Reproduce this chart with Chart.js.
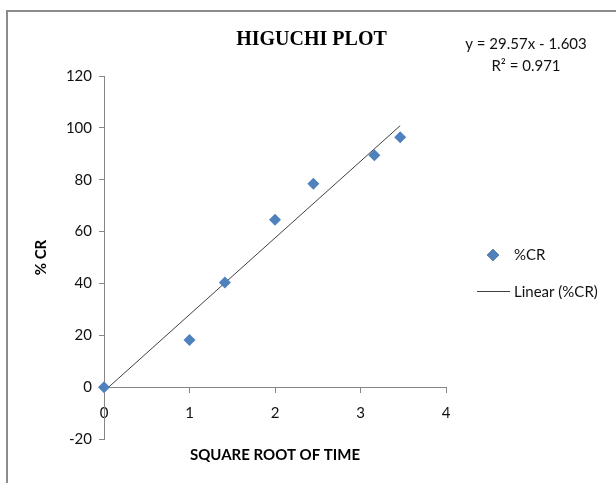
<!DOCTYPE html>
<html><head><meta charset="utf-8">
<script src="https://cdn.jsdelivr.net/npm/chart.js@4"></script>
<style>
html,body{margin:0;padding:0;background:#fff;overflow:hidden}
#wrap{position:absolute;left:0;top:0;width:616px;height:483px}
#frame{position:absolute;left:6px;top:10px;width:700px;height:600px;border:2px solid #8c8c8c;box-sizing:border-box;pointer-events:none}
</style></head><body>
<div id="wrap"><canvas id="c" width="616" height="483"></canvas></div>
<div id="frame"></div>
<script>
const sqrtTime = [0, 1, 1.414, 2, 2.449, 3.162, 3.464];
const percentCR = [0, 18.2, 40.4, 64.6, 78.4, 89.4, 96.4];
const trendX = [0, 3.464];
const trendY = [-1.603, 100.83];
const xTickValues = [0, 1, 2, 3, 4];
const yTickValues = [-20, 0, 20, 40, 60, 80, 100, 120];
const chartTitle = 'HIGUCHI PLOT';
const xTitle = 'SQUARE ROOT OF TIME';
const yTitle = '% CR';
const seriesName = '%CR';
const trendName = 'Linear (%CR)';
const equationLines = ['y = 29.57x - 1.603', 'R\u00b2 = 0.971'];

const blue = '#4F81BD';
const axisGray = '#868686';
const textColor = '#111';
const sansFont = 'Lato, "Open Sans", sans-serif';

const scatterPts = sqrtTime.map((x, i) => ({x, y: percentCR[i]}));
const trendPts = trendX.map((x, i) => ({x, y: trendY[i]}));

const overlay = {
  id: 'overlay',
  afterDraw(chart) {
    const ctx = chart.ctx;
    ctx.save();
    ctx.fillStyle = textColor;
    ctx.font = '15px ' + sansFont;
    ctx.textBaseline = 'middle';
    ctx.textAlign = 'center';
    ctx.fillText(equationLines[0], 526, 44);
    ctx.fillText(equationLines[1], 526, 66);
    // legend
    ctx.textAlign = 'left';
    Chart.helpers.drawPoint(ctx, {pointStyle: 'rectRot', radius: 6, borderWidth: 0}, 493, 255);
    ctx.fillStyle = blue;
    ctx.fill();
    ctx.fillStyle = textColor;
    ctx.fillText(seriesName, 514, 255);
    ctx.strokeStyle = '#404040';
    ctx.lineWidth = 1;
    ctx.beginPath();
    ctx.moveTo(477, 291.5);
    ctx.lineTo(510, 291.5);
    ctx.stroke();
    ctx.fillText(trendName, 514, 292);
    ctx.restore();
  }
};

new Chart(document.getElementById('c'), {
  type: 'scatter',
  data: {
    datasets: [
      {
        label: seriesName,
        data: scatterPts,
        pointStyle: 'rectRot',
        pointRadius: 6,
        pointHoverRadius: 6,
        pointBackgroundColor: blue,
        pointBorderColor: blue,
        pointBorderWidth: 0,
        showLine: false,
        clip: false,
        xAxisID: 'x', yAxisID: 'y',
        order: 1
      },
      {
        label: trendName,
        type: 'line',
        data: trendPts,
        borderColor: '#404040',
        borderWidth: 1,
        pointRadius: 0,
        fill: false,
        xAxisID: 'x', yAxisID: 'y',
        order: 2
      }
    ]
  },
  options: {
    responsive: false,
    animation: false,
    events: [],
    layout: {padding: {left: 7, right: 0, top: 0, bottom: 0}},
    plugins: {
      legend: {display: false},
      tooltip: {enabled: false},
      title: {
        display: true,
        text: chartTitle,
        color: '#000',
        font: {family: '"Liberation Serif", "Times New Roman", serif', size: 20, weight: 'bold'},
        padding: {top: 28, bottom: 24}
      }
    },
    scales: {
      x: {
        type: 'linear',
        position: {y: 0},
        min: 0, max: 4,
        afterBuildTicks(s) { s.ticks = xTickValues.map(v => ({value: v})); },
        ticks: {color: textColor, font: {family: sansFont, size: 15}, padding: 12, maxRotation: 0},
        grid: {drawOnChartArea: false, drawTicks: true, tickLength: 5, color: axisGray},
        border: {color: axisGray, width: 1}
      },
      y: {
        type: 'linear',
        position: 'left',
        min: -20, max: 120,
        afterBuildTicks(s) { s.ticks = yTickValues.map(v => ({value: v})); },
        afterFit(s) { s.width = 97; },
        ticks: {color: textColor, font: {family: sansFont, size: 15}, padding: 7},
        grid: {drawOnChartArea: false, drawTicks: true, tickLength: 5, color: axisGray},
        border: {color: axisGray, width: 1},
        title: {display: true, text: yTitle, color: '#000', font: {family: sansFont, size: 15, weight: 'bold'}, padding: {top: 25, bottom: 0}}
      },
      x2: {
        type: 'linear',
        position: 'bottom',
        min: 0, max: 4,
        afterFit(s) { s.height = 44; },
        ticks: {display: false},
        grid: {display: false},
        border: {display: false},
        title: {display: true, text: xTitle, color: '#000', font: {family: sansFont, size: 15, weight: 'bold'}, padding: {top: 0, bottom: 19}}
      },
      yr: {
        type: 'linear',
        position: 'right',
        min: 0, max: 1,
        afterFit(s) { s.width = 170; },
        ticks: {display: false},
        grid: {display: false},
        border: {display: false}
      }
    }
  },
  plugins: [overlay]
});
</script>
</body></html>
